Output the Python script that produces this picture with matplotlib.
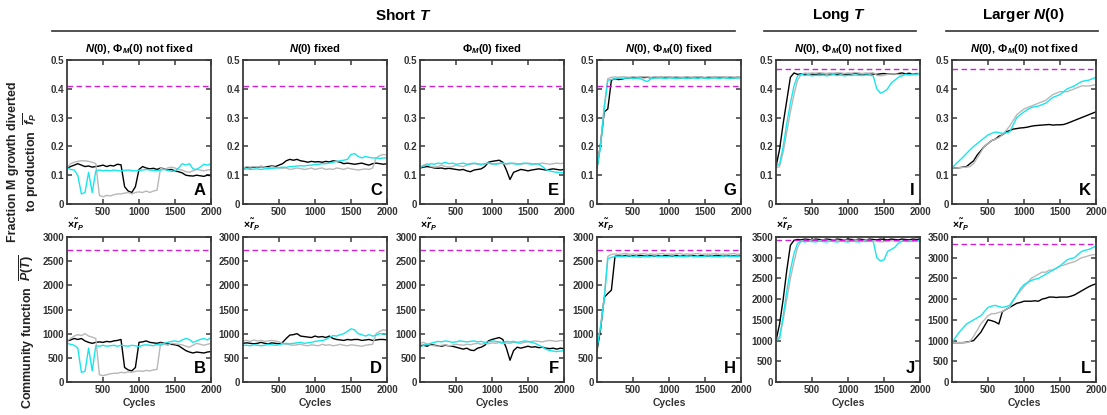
import numpy as np
import matplotlib
matplotlib.use("Agg")
import matplotlib.pyplot as plt

plt.rcParams['font.family'] = ['Liberation Sans', 'DejaVu Sans']
plt.rcParams['font.weight'] = 'bold'
plt.rcParams['mathtext.fontset'] = 'custom'
plt.rcParams['mathtext.rm'] = 'Liberation Sans:bold'
plt.rcParams['mathtext.it'] = 'Liberation Sans:italic:bold'
plt.rcParams['mathtext.bf'] = 'Liberation Sans:bold'

# ---------------- data (sampled every 50 cycles) ----------------
cycles = np.arange(0, 2001, 50)

A_black = [0.125,0.13,0.135,0.14,0.135,0.13,0.132,0.128,0.13,0.132,0.135,0.13,0.134,0.132,0.138,0.136,0.06,0.045,0.04,0.06,0.12,0.13,0.125,0.122,0.124,0.12,0.125,0.122,0.118,0.12,0.115,0.112,0.108,0.1,0.098,0.097,0.1,0.098,0.096,0.1,0.098]
A_cyan = [0.125,0.12,0.118,0.1,0.035,0.04,0.11,0.04,0.115,0.118,0.115,0.117,0.115,0.118,0.116,0.115,0.117,0.118,0.116,0.115,0.117,0.118,0.12,0.118,0.117,0.115,0.118,0.12,0.117,0.113,0.115,0.125,0.14,0.135,0.14,0.122,0.12,0.128,0.138,0.135,0.14]
A_gray = [0.125,0.14,0.145,0.148,0.15,0.15,0.148,0.145,0.14,0.03,0.025,0.03,0.028,0.032,0.035,0.035,0.038,0.04,0.035,0.04,0.042,0.04,0.045,0.04,0.045,0.048,0.125,0.12,0.125,0.128,0.125,0.12,0.118,0.112,0.11,0.115,0.12,0.118,0.115,0.118,0.12]

B_black = [850,870,900,880,900,850,820,800,820,830,820,840,830,850,860,880,300,250,230,300,820,830,850,820,810,800,820,800,790,780,770,750,700,650,620,600,620,610,600,620,630]
B_cyan = [800,780,760,700,200,220,700,230,750,740,760,740,750,760,740,760,750,740,760,750,730,760,770,760,750,780,760,800,820,840,850,830,870,900,880,820,850,880,900,870,920]
B_gray = [850,900,950,980,960,1000,950,930,900,150,130,150,170,180,180,200,190,210,200,220,230,220,240,230,250,260,800,780,760,800,790,780,770,740,720,760,800,780,760,780,800]

C_black = [0.125,0.127,0.126,0.128,0.127,0.13,0.128,0.13,0.132,0.13,0.135,0.14,0.15,0.155,0.152,0.155,0.15,0.148,0.145,0.148,0.146,0.147,0.145,0.148,0.146,0.15,0.148,0.145,0.14,0.142,0.14,0.138,0.14,0.142,0.138,0.135,0.14,0.142,0.14,0.138,0.14]
C_cyan = [0.12,0.122,0.12,0.121,0.122,0.12,0.122,0.123,0.124,0.125,0.126,0.128,0.127,0.13,0.13,0.132,0.133,0.132,0.134,0.135,0.137,0.138,0.14,0.14,0.142,0.145,0.148,0.15,0.152,0.155,0.172,0.175,0.165,0.16,0.165,0.162,0.16,0.16,0.158,0.16,0.16]
C_gray = [0.125,0.13,0.128,0.13,0.128,0.132,0.128,0.125,0.13,0.127,0.125,0.124,0.125,0.12,0.122,0.125,0.123,0.12,0.122,0.125,0.12,0.123,0.125,0.12,0.122,0.12,0.125,0.123,0.12,0.125,0.122,0.12,0.118,0.12,0.122,0.12,0.125,0.16,0.168,0.172,0.17]

D_black = [800,810,800,790,800,820,800,790,810,800,790,820,900,970,980,1000,950,940,930,920,950,930,940,920,950,900,880,870,860,880,870,880,880,860,870,880,860,870,880,880,870]
D_cyan = [760,760,750,770,760,750,760,780,770,760,770,790,800,790,800,810,820,800,810,820,840,850,860,880,920,960,950,980,1000,1050,1100,1080,1000,980,950,980,950,970,1000,990,1000]
D_gray = [850,860,840,870,850,860,840,850,860,850,830,800,780,770,760,770,780,760,750,770,760,750,780,760,770,750,760,780,760,750,770,760,750,740,760,770,780,1000,1050,1080,1060]

E_black = [0.125,0.128,0.13,0.128,0.125,0.124,0.125,0.122,0.124,0.122,0.12,0.118,0.12,0.115,0.112,0.118,0.12,0.122,0.13,0.145,0.148,0.15,0.152,0.145,0.118,0.085,0.11,0.115,0.12,0.118,0.115,0.118,0.12,0.122,0.12,0.118,0.12,0.122,0.12,0.118,0.12]
E_cyan = [0.13,0.132,0.135,0.14,0.138,0.142,0.14,0.145,0.14,0.142,0.138,0.14,0.142,0.138,0.14,0.142,0.14,0.138,0.14,0.142,0.14,0.138,0.14,0.142,0.14,0.142,0.14,0.138,0.14,0.142,0.14,0.138,0.14,0.138,0.13,0.12,0.115,0.112,0.11,0.108,0.11]
E_gray = [0.125,0.135,0.14,0.13,0.128,0.13,0.135,0.13,0.128,0.13,0.135,0.132,0.13,0.135,0.138,0.14,0.138,0.135,0.14,0.142,0.138,0.14,0.142,0.14,0.138,0.14,0.142,0.14,0.138,0.14,0.142,0.14,0.138,0.14,0.142,0.14,0.138,0.14,0.142,0.14,0.142]

F_black = [750,760,740,780,760,750,740,760,750,740,720,700,680,700,660,650,700,720,760,850,880,900,920,880,700,450,650,720,700,720,740,720,730,710,720,700,690,700,680,700,690]
F_cyan = [720,760,780,800,820,840,830,850,840,820,830,850,840,830,840,850,830,840,820,830,850,840,830,820,840,830,840,820,830,850,840,820,800,760,720,680,650,640,630,640,650]
F_gray = [800,820,780,760,750,740,760,770,750,760,780,770,760,780,770,790,800,780,800,790,810,800,820,790,810,800,820,810,800,820,830,840,850,840,830,850,860,850,840,860,850]

G_black = [0.125,0.21,0.32,0.33,0.43,0.435,0.432,0.434,0.437,0.438,0.44,0.438,0.44,0.439,0.44,0.438,0.44,0.439,0.44,0.438,0.44,0.439,0.44,0.438,0.439,0.44,0.438,0.44,0.439,0.44,0.438,0.44,0.439,0.44,0.438,0.44,0.439,0.44,0.438,0.44,0.439]
G_cyan = [0.125,0.2,0.33,0.43,0.432,0.435,0.437,0.436,0.437,0.438,0.436,0.437,0.435,0.43,0.425,0.435,0.437,0.438,0.437,0.436,0.438,0.437,0.436,0.438,0.437,0.436,0.438,0.437,0.436,0.438,0.437,0.436,0.438,0.437,0.436,0.438,0.437,0.436,0.438,0.437,0.438]
G_gray = [0.13,0.21,0.34,0.435,0.44,0.441,0.44,0.442,0.441,0.44,0.442,0.441,0.44,0.442,0.441,0.44,0.442,0.441,0.44,0.442,0.441,0.44,0.442,0.441,0.44,0.442,0.441,0.44,0.442,0.441,0.44,0.442,0.441,0.44,0.442,0.441,0.44,0.442,0.441,0.44,0.44]

H_black = [650,1100,1750,1830,1900,2600,2610,2600,2620,2600,2610,2600,2620,2610,2600,2620,2600,2610,2600,2620,2610,2600,2620,2600,2610,2600,2620,2610,2600,2620,2600,2610,2600,2620,2610,2600,2620,2600,2610,2600,2610]
H_cyan = [700,1150,1700,2550,2580,2590,2600,2590,2600,2610,2590,2600,2580,2600,2590,2600,2610,2590,2600,2590,2600,2610,2590,2600,2590,2600,2610,2590,2600,2590,2600,2610,2590,2600,2590,2600,2610,2590,2600,2590,2600]
H_gray = [750,1150,1750,2600,2640,2650,2640,2650,2660,2640,2650,2640,2650,2660,2640,2650,2640,2650,2660,2640,2650,2640,2650,2660,2640,2650,2640,2650,2660,2640,2650,2640,2650,2660,2640,2650,2640,2650,2660,2640,2650]

I_black = [0.13,0.19,0.28,0.36,0.44,0.455,0.45,0.452,0.45,0.453,0.451,0.45,0.452,0.45,0.453,0.451,0.452,0.45,0.453,0.451,0.45,0.452,0.454,0.451,0.452,0.45,0.453,0.451,0.45,0.452,0.453,0.451,0.452,0.45,0.453,0.455,0.452,0.454,0.451,0.453,0.452]
I_cyan = [0.13,0.14,0.2,0.28,0.35,0.41,0.445,0.45,0.446,0.448,0.445,0.447,0.446,0.448,0.445,0.447,0.449,0.446,0.448,0.445,0.447,0.446,0.448,0.447,0.446,0.448,0.447,0.445,0.4,0.385,0.39,0.4,0.42,0.43,0.44,0.445,0.45,0.448,0.452,0.45,0.455]
I_gray = [0.125,0.13,0.18,0.25,0.32,0.38,0.43,0.45,0.455,0.453,0.455,0.454,0.456,0.455,0.453,0.455,0.454,0.456,0.455,0.453,0.455,0.454,0.456,0.455,0.453,0.455,0.454,0.456,0.447,0.445,0.447,0.45,0.452,0.451,0.45,0.448,0.45,0.449,0.448,0.45,0.449]

J_black = [1000,1400,2000,2700,3300,3420,3440,3430,3450,3440,3430,3450,3440,3430,3450,3440,3430,3450,3440,3430,3450,3440,3430,3450,3440,3430,3450,3440,3430,3450,3440,3430,3450,3440,3430,3450,3440,3430,3450,3440,3450]
J_cyan = [1000,1050,1600,2200,2700,3100,3350,3400,3380,3400,3390,3380,3400,3390,3380,3400,3390,3380,3400,3390,3380,3400,3390,3380,3400,3390,3400,3400,3000,2920,2950,3150,3200,3250,3350,3400,3400,3390,3410,3400,3420]
J_gray = [1000,1100,1500,2000,2500,2900,3250,3400,3420,3410,3430,3420,3410,3430,3420,3410,3430,3420,3410,3430,3420,3410,3430,3420,3410,3430,3420,3410,3400,3380,3390,3400,3410,3400,3390,3400,3410,3400,3390,3410,3400]

K_black = [0.125,0.125,0.126,0.128,0.13,0.14,0.15,0.17,0.185,0.2,0.21,0.22,0.225,0.235,0.24,0.25,0.255,0.26,0.262,0.264,0.265,0.267,0.27,0.272,0.273,0.274,0.275,0.276,0.274,0.275,0.275,0.276,0.28,0.285,0.29,0.295,0.3,0.305,0.31,0.315,0.32]
K_cyan = [0.125,0.138,0.15,0.162,0.175,0.188,0.2,0.21,0.22,0.23,0.24,0.245,0.25,0.248,0.245,0.247,0.25,0.275,0.3,0.31,0.32,0.328,0.335,0.338,0.34,0.345,0.35,0.36,0.37,0.375,0.38,0.39,0.4,0.405,0.41,0.418,0.425,0.428,0.43,0.435,0.44]
K_gray = [0.125,0.125,0.126,0.127,0.128,0.13,0.14,0.16,0.18,0.2,0.21,0.22,0.225,0.23,0.24,0.255,0.27,0.29,0.31,0.32,0.33,0.335,0.34,0.345,0.35,0.355,0.36,0.37,0.38,0.385,0.39,0.39,0.39,0.395,0.4,0.405,0.41,0.41,0.41,0.412,0.415]

L_black = [950,950,950,950,960,980,1000,1100,1200,1350,1500,1480,1450,1400,1700,1750,1800,1850,1900,1920,1950,1950,1950,1960,1950,2000,2020,2050,2050,2040,2050,2050,2050,2070,2100,2150,2200,2250,2300,2340,2370]
L_cyan = [950,1080,1200,1300,1400,1450,1500,1550,1600,1700,1800,1830,1850,1820,1800,1820,1850,1980,2100,2250,2350,2400,2450,2480,2500,2550,2600,2650,2700,2750,2800,2880,2950,2980,3000,3080,3150,3180,3200,3240,3280]
L_gray = [950,950,950,950,950,980,1100,1250,1400,1500,1600,1650,1650,1680,1700,1750,1800,1950,2100,2200,2300,2400,2500,2550,2600,2650,2650,2700,2700,2750,2800,2820,2850,2880,2900,2950,3000,3020,3050,3070,3080]

# dashed reference levels
ref_levels = {'A': 0.41, 'C': 0.41, 'E': 0.41, 'G': 0.41, 'I': 0.47, 'K': 0.47,
              'B': 2740, 'D': 2740, 'F': 2740, 'H': 2740, 'J': 3420, 'L': 3330}

col_titles = [r"$N$(0), $\mathit{\Phi}_M$(0) not fixed", r"$N$(0) fixed",
              r"$\mathit{\Phi}_M$(0) fixed", r"$N$(0), $\mathit{\Phi}_M$(0) fixed",
              r"$N$(0), $\mathit{\Phi}_M$(0) not fixed", r"$N$(0), $\mathit{\Phi}_M$(0) not fixed"]
top_letters = ['A', 'C', 'E', 'G', 'I', 'K']
bot_letters = ['B', 'D', 'F', 'H', 'J', 'L']
series = {
    'A': (A_black, A_gray, A_cyan), 'B': (B_black, B_gray, B_cyan),
    'C': (C_black, C_gray, C_cyan), 'D': (D_black, D_gray, D_cyan),
    'E': (E_black, E_gray, E_cyan), 'F': (F_black, F_gray, F_cyan),
    'G': (G_black, G_gray, G_cyan), 'H': (H_black, H_gray, H_cyan),
    'I': (I_black, I_gray, I_cyan), 'J': (J_black, J_gray, J_cyan),
    'K': (K_black, K_gray, K_cyan), 'L': (L_black, L_gray, L_cyan),
}
bot_ymax = {'B': 3000, 'D': 3000, 'F': 3000, 'H': 3000, 'J': 3500, 'L': 3500}

# ---------------- layout ----------------
W, H = 1107, 415
fig = plt.figure(figsize=(W / 100, H / 100), dpi=100)
lefts = [67, 243, 420, 597, 776, 952]
aw = 144
top_row = (60, 204)
bot_row = (237, 382)

colors = ['#000000', '#b8b8b8', '#19e6ec']
spine_col = '#3a3a3a'
tick_fs = 7


def style(ax):
    for s in ax.spines.values():
        s.set_color(spine_col)
        s.set_linewidth(1.3)
    ax.tick_params(direction='in', length=3.5, width=1.1, colors=spine_col,
                   labelsize=tick_fs, top=True, right=True, pad=2)
    ax.set_xlim(0, 2000)
    ax.set_xticks([500, 1000, 1500, 2000])
    ax.set_xticklabels(['500', '1000', '1500', '2000'])
    for lab in ax.get_xticklabels() + ax.get_yticklabels():
        lab.set_fontweight('bold')
        lab.set_color('#333333')


def make_ax(left, row):
    t, b = row
    return fig.add_axes([left / W, 1 - b / H, aw / W, (b - t) / H])


for i, left in enumerate(lefts):
    # top row
    L = top_letters[i]
    ax = make_ax(left, top_row)
    for vals, c in zip(series[L], colors):
        ax.plot(cycles, vals, color=c, lw=1.0)
    ax.axhline(ref_levels[L], color='#d020d8', lw=1.0, ls=(0, (4, 2.5)))
    ax.set_ylim(0, 0.5)
    ax.set_yticks([0, 0.1, 0.2, 0.3, 0.4, 0.5])
    ax.set_yticklabels(['0', '0.1', '0.2', '0.3', '0.4', '0.5'])
    style(ax)
    ax.text(0.965, 0.04, L, transform=ax.transAxes, ha='right', va='bottom',
            fontsize=12, fontweight='bold')
    ax.set_title(col_titles[i], fontsize=8, fontweight='bold', pad=6)

    # bottom row
    L = bot_letters[i]
    ax = make_ax(left, bot_row)
    for vals, c in zip(series[L], colors):
        ax.plot(cycles, vals, color=c, lw=1.0)
    ax.axhline(ref_levels[L], color='#d020d8', lw=1.0, ls=(0, (4, 2.5)))
    ym = bot_ymax[L]
    ax.set_ylim(0, ym)
    yt = list(range(0, ym + 1, 500))
    ax.set_yticks(yt)
    ax.set_yticklabels([str(v) for v in yt])
    style(ax)
    ax.text(0.965, 0.04, L, transform=ax.transAxes, ha='right', va='bottom',
            fontsize=12, fontweight='bold')
    ax.set_xlabel('Cycles', fontsize=7.5, fontweight='bold', labelpad=2, color='#333333')
    ax.text(0.0, 1.03, r"×$\tilde{r}_P$", transform=ax.transAxes, ha='left',
            va='bottom', fontsize=7.5, fontweight='bold')

# group headers
def header(text, xc, x0, x1):
    fig.text(xc / W, 1 - 15 / H, text, ha='center', va='center', fontsize=11,
             fontweight='bold')
    fig.add_artist(plt.Line2D([x0 / W, x1 / W], [1 - 31 / H, 1 - 31 / H],
                              color='#333333', lw=1.2, transform=fig.transFigure))

header(r"Short $T$", 403, 52, 735)
header(r"Long $T$", 839, 764, 916)
header(r"Larger $N$(0)", 1023, 946, 1098)

# y labels
fig.text(24 / W, 1 - 162 / H,
         "Fraction M growth diverted\n" + r"to production  $\overline{f_P}$",
         rotation=90, ha='center', va='center', fontsize=9, fontweight='bold',
         linespacing=1.25, multialignment='center', color='#222222')
fig.text(27 / W, 1 - 332 / H, r"Community function  $\overline{P(T)}$",
         rotation=90, ha='center', va='center', fontsize=9, fontweight='bold',
         color='#222222')

fig.savefig('out.png', dpi=100)
